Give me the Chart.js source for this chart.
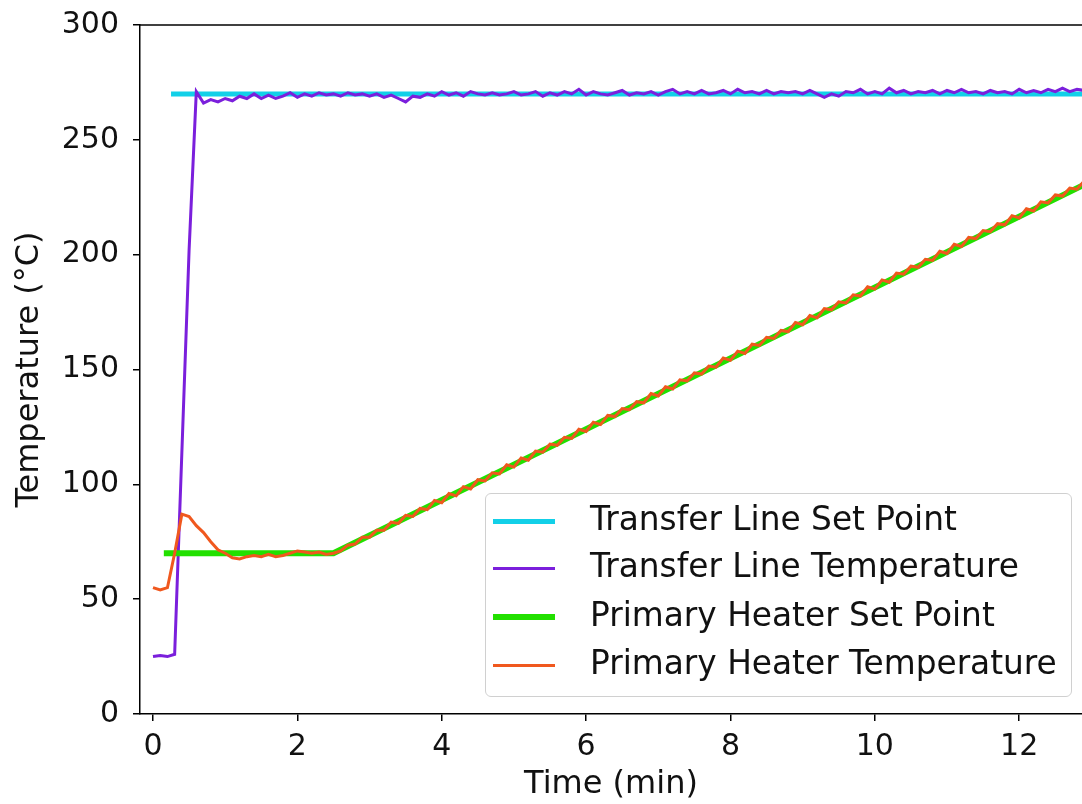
<!DOCTYPE html>
<html>
<head>
<meta charset="utf-8">
<script src="https://cdn.jsdelivr.net/npm/chart.js@4"></script>
<style>
  body { margin: 0; background: #fff; }
  #wrap { position: relative; width: 1082px; height: 804px; overflow: hidden; }
  #legend {
    position: absolute; left: 485px; top: 493px; width: 585px; height: 202px;
    border: 1.5px solid #d0d0d0; border-radius: 6px; background: rgba(255,255,255,0.85);
    font-family: "DejaVu Sans", sans-serif; font-size: 32.8px; color: #111;
  }
  .row { position: absolute; left: 0; height: 40px; line-height: 40px; }
  .row .swatch { position: absolute; left: 7px; top: 20px; width: 62px; }
  .row .lbl { position: absolute; left: 104px; white-space: nowrap; top: -2px; }
</style>
</head>
<body>
<div id="wrap">
  <canvas id="c" width="1082" height="804"></canvas>
  <div id="legend"></div>
</div>
<script>
// ---- data ----
const seriesNames = ['Transfer Line Set Point', 'Transfer Line Temperature', 'Primary Heater Set Point', 'Primary Heater Temperature'];
const seriesColors = ['#12d0e8', '#7b1fdc', '#22e000', '#f0581e'];
const seriesWidths = [5, 3, 6, 3];

const xTicks = [0, 2, 4, 6, 8, 10, 12];
const yTicks = [0, 50, 100, 150, 200, 250, 300];

// set points (min, °C)
const tlSetTime = [0.25, 13];
const tlSetTemp = [270, 270];
const phSetTime = [0.15, 2.5, 13];
const phSetTemp = [70, 70, 232];

// measured temperatures, sampled every 0.1 min
const time = [
  0.0, 0.1, 0.2, 0.3, 0.4, 0.5, 0.6, 0.7, 0.8, 0.9,
  1.0, 1.1, 1.2, 1.3, 1.4, 1.5, 1.6, 1.7, 1.8, 1.9,
  2.0, 2.1, 2.2, 2.3, 2.4, 2.5, 2.6, 2.7, 2.8, 2.9,
  3.0, 3.1, 3.2, 3.3, 3.4, 3.5, 3.6, 3.7, 3.8, 3.9,
  4.0, 4.1, 4.2, 4.3, 4.4, 4.5, 4.6, 4.7, 4.8, 4.9,
  5.0, 5.1, 5.2, 5.3, 5.4, 5.5, 5.6, 5.7, 5.8, 5.9,
  6.0, 6.1, 6.2, 6.3, 6.4, 6.5, 6.6, 6.7, 6.8, 6.9,
  7.0, 7.1, 7.2, 7.3, 7.4, 7.5, 7.6, 7.7, 7.8, 7.9,
  8.0, 8.1, 8.2, 8.3, 8.4, 8.5, 8.6, 8.7, 8.8, 8.9,
  9.0, 9.1, 9.2, 9.3, 9.4, 9.5, 9.6, 9.7, 9.8, 9.9,
  10.0, 10.1, 10.2, 10.3, 10.4, 10.5, 10.6, 10.7, 10.8, 10.9,
  11.0, 11.1, 11.2, 11.3, 11.4, 11.5, 11.6, 11.7, 11.8, 11.9,
  12.0, 12.1, 12.2, 12.3, 12.4, 12.5, 12.6, 12.7, 12.8, 12.9
];
const tlTemp = [
  25, 25.5, 25, 26, 114, 202, 271, 266, 267.5, 266.5,
  268, 267, 269, 268, 270, 268, 269.5, 268, 269, 270.5,
  268.5, 270, 269, 270.5, 269.5, 270, 269, 270.5, 269.5, 270,
  269, 270, 268.5, 269.5, 268, 266.5, 269, 268.5, 270, 269,
  271, 269.5, 270.5, 269, 271, 270, 269.5, 270.5, 269.5, 270,
  271, 269.5, 270, 271, 269, 270.5, 269.5, 271, 270, 272,
  269.5, 271, 270, 269.5, 270.5, 271.5, 269.5, 270.5, 270, 271,
  269.5, 271, 272, 270, 271, 270, 271.5, 270, 270.5, 271.5,
  270, 272, 270.5, 271, 270, 271.5, 270, 271, 270.5, 271,
  270, 271.5, 270, 268.5, 270, 269, 271, 270.5, 272, 270,
  271, 270, 272.5, 270.5, 271.5, 270, 271, 270.5, 271.5, 270,
  271.5, 270.5, 272, 270.5, 271, 270, 271.5, 270.5, 271, 270,
  272, 270.5, 271.5, 270.5, 272, 271, 272.5, 271, 272, 271.5
];
const phTemp = [
  55, 54, 55, 70, 87, 86, 82, 79, 75, 71.5,
  70, 68, 67.5, 68.5, 69, 68.5, 69.5, 68.5, 69, 70,
  71, 70.5, 70, 70.5, 69.5, 70, 71, 73.5, 74, 77,
  77, 80, 80, 83.5, 83, 86.5, 86, 89.5, 89, 93,
  92, 96, 95, 99, 98, 102, 101.5, 105, 104.5, 108.5,
  107.5, 111.5, 110.5, 114.5, 114, 117.5, 117, 120.5, 120, 124,
  123, 127, 126, 130, 129.5, 133, 132.5, 136, 135.5, 139.5,
  138.5, 142.5, 141.5, 145.5, 145, 148.5, 148, 151.5, 151, 155,
  154, 158, 157, 161, 160.5, 164, 163.5, 167, 166.5, 170.5,
  169.5, 173.5, 172.5, 176.5, 176, 179.5, 179, 182.5, 182, 186,
  185, 189, 188, 192, 191.5, 195, 194.5, 198, 197.5, 201.5,
  200.5, 204.5, 203.5, 207.5, 207, 210.5, 210, 213.5, 213, 217,
  216, 220, 219, 223, 222.5, 226, 225.5, 229, 228.5, 232
];

const pts = (xs, ys) => xs.map((x, i) => ({ x, y: ys[i] }));

// matplotlib-style top spine
const topSpine = {
  id: 'topSpine',
  afterDraw(chart) {
    const { ctx, chartArea } = chart;
    ctx.save();
    ctx.strokeStyle = '#000';
    ctx.lineWidth = 1.5;
    ctx.beginPath();
    ctx.moveTo(chartArea.left, chartArea.top);
    ctx.lineTo(chartArea.right, chartArea.top);
    ctx.stroke();
    ctx.restore();
  },
};

const tickFont = { family: 'DejaVu Sans', size: 30 };
const titleFont = { family: 'DejaVu Sans', size: 32 };
// later series are drawn on top, as in matplotlib
const mk = (i, data) => ({
  label: seriesNames[i], data, order: 4 - i,
  borderColor: seriesColors[i], backgroundColor: seriesColors[i],
  borderWidth: seriesWidths[i], pointRadius: 0, tension: 0, fill: false,
});

new Chart(document.getElementById('c'), {
  type: 'line',
  plugins: [topSpine],
  data: {
    datasets: [
      mk(0, pts(tlSetTime, tlSetTemp)),
      mk(1, pts(time, tlTemp)),
      mk(2, pts(phSetTime, phSetTemp)),
      mk(3, pts(time, phTemp)),
    ],
  },
  options: {
    responsive: false,
    animation: false,
    layout: { padding: { top: 25, right: 0, left: 0, bottom: 0 } },
    plugins: { legend: { display: false }, tooltip: { enabled: false } },
    scales: {
      x: {
        type: 'linear', min: -0.18, max: 12.87,
        afterFit: s => { s.height = 90; s.paddingLeft = 0; s.paddingRight = 0; },
        afterBuildTicks: s => { s.ticks = xTicks.map(v => ({ value: v })); },
        ticks: { font: tickFont, color: '#111', padding: 8, includeBounds: false },
        grid: { drawOnChartArea: false, drawTicks: true, tickLength: 7, color: '#000', lineWidth: 1.5 },
        border: { display: true, color: '#000', width: 1.5 },
        title: { display: true, text: 'Time (min)', font: titleFont, color: '#111', padding: { top: 0, bottom: 0 } },
      },
      y: {
        min: 0, max: 300,
        afterFit: s => { s.width = 140; s.paddingTop = 0; s.paddingBottom = 0; },
        afterBuildTicks: s => { s.ticks = yTicks.map(v => ({ value: v })); },
        ticks: { font: tickFont, color: '#111', padding: 14 },
        grid: { drawOnChartArea: false, drawTicks: true, tickLength: 7, color: '#000', lineWidth: 1.5 },
        border: { display: true, color: '#000', width: 1.5 },
        title: { display: true, text: 'Temperature (°C)', font: titleFont, color: '#111', padding: { top: 10, bottom: 4 } },
      },
    },
  },
});

// legend inside the axes, lower right
const legend = document.getElementById('legend');
const rowTops = [7, 54, 103, 151];
seriesNames.forEach((name, i) => {
  const row = document.createElement('div');
  row.className = 'row';
  row.style.top = rowTops[i] + 'px';
  row.innerHTML = `<div class="swatch" style="border-top:${seriesWidths[i]}px solid ${seriesColors[i]};margin-top:${-seriesWidths[i] / 2}px"></div><span class="lbl">${name}</span>`;
  legend.appendChild(row);
});
</script>
</body>
</html>
